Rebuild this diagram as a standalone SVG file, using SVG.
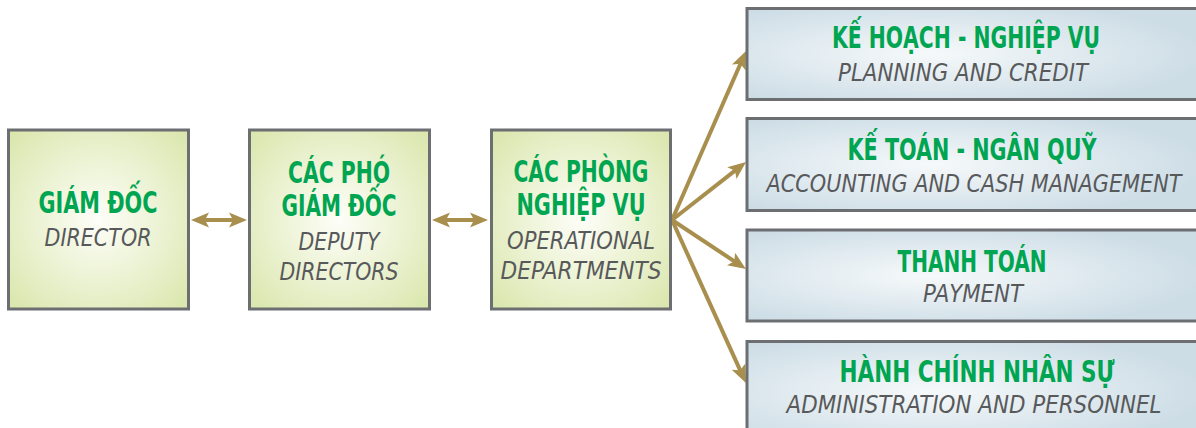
<svg xmlns="http://www.w3.org/2000/svg" width="1196" height="428" viewBox="0 0 1196 428">
<defs>
<radialGradient id="gGreen" cx="0.5" cy="0.5" r="0.7">
<stop offset="0" stop-color="#fdfef8"/>
<stop offset="0.55" stop-color="#eaf1cf"/>
<stop offset="1" stop-color="#d9e6ab"/>
</radialGradient>
<radialGradient id="gBlue" cx="0.4" cy="0.5" r="0.6">
<stop offset="0" stop-color="#f6f9fa"/>
<stop offset="0.6" stop-color="#dde8ee"/>
<stop offset="1" stop-color="#cddde6"/>
</radialGradient>
<marker id="ah" viewBox="0 -8 20 16" markerUnits="userSpaceOnUse" markerWidth="20" markerHeight="16" refX="6" refY="0" orient="auto-start-reverse">
<path d="M0,-7.5 L18,0 L0,7.5 L4,0 Z" fill="#a88f4e"/>
</marker>
<style>
.box{stroke:#6d6e71;stroke-width:3}
.g{fill:url(#gGreen)}
.b{fill:url(#gBlue)}
.t{font-family:"Liberation Sans Narrow","DejaVu Sans Condensed","Liberation Sans",sans-serif;font-weight:bold;font-size:31px;fill:#00a551;text-anchor:middle}
.s{font-family:"Liberation Sans Narrow","DejaVu Sans Condensed","Liberation Sans",sans-serif;font-style:italic;font-size:25px;fill:#58595b;text-anchor:middle}
.c{stroke:#a88f4e;stroke-width:4;fill:none;marker-end:url(#ah)}
.d{marker-start:url(#ah)}
</style>
</defs>
<g id="connectors">
<path class="c d" d="M444,220 L476,220"/>
<path class="c d" d="M203,220 L235,220"/>
<path class="c" d="M672,220 L741.2,62"/>
<path class="c" d="M672,220 L736.6,169.4"/>
<path class="c" d="M672,220 L736,262.4"/>
<path class="c" d="M672,220 L741,372.1"/>
</g>
<g id="director">
<rect class="box g" x="8.5" y="130" width="180" height="179"/>
<text class="t" x="98" y="213" textLength="119" lengthAdjust="spacingAndGlyphs">GIÁM ĐỐC</text>
<text class="s" x="98" y="246" textLength="107" lengthAdjust="spacingAndGlyphs">DIRECTOR</text>
</g>
<g id="deputy">
<rect class="box g" x="249.5" y="130" width="180" height="179"/>
<text class="t" x="339" y="183" textLength="102" lengthAdjust="spacingAndGlyphs">CÁC PHÓ</text>
<text class="t" x="339" y="216" textLength="115" lengthAdjust="spacingAndGlyphs">GIÁM ĐỐC</text>
<text class="s" x="339" y="250" textLength="81" lengthAdjust="spacingAndGlyphs">DEPUTY</text>
<text class="s" x="339" y="280" textLength="119" lengthAdjust="spacingAndGlyphs">DIRECTORS</text>
</g>
<g id="departments">
<rect class="box g" x="491.5" y="130" width="179" height="179"/>
<text class="t" x="581" y="182" textLength="135" lengthAdjust="spacingAndGlyphs">CÁC PHÒNG</text>
<text class="t" x="581" y="215" textLength="129" lengthAdjust="spacingAndGlyphs">NGHIỆP VỤ</text>
<text class="s" x="581" y="249" textLength="148" lengthAdjust="spacingAndGlyphs">OPERATIONAL</text>
<text class="s" x="581" y="279" textLength="161" lengthAdjust="spacingAndGlyphs">DEPARTMENTS</text>
</g>
<g id="planning">
<rect class="box b" x="747" y="8.5" width="460" height="91"/>
<text class="t" x="966" y="48" textLength="268" lengthAdjust="spacingAndGlyphs">KẾ HOẠCH - NGHIỆP VỤ</text>
<text class="s" x="963" y="81" textLength="250" lengthAdjust="spacingAndGlyphs">PLANNING AND CREDIT</text>
</g>
<g id="accounting">
<rect class="box b" x="747" y="118.5" width="460" height="92"/>
<text class="t" x="972" y="160" textLength="249" lengthAdjust="spacingAndGlyphs">KẾ TOÁN - NGÂN QUỸ</text>
<text class="s" x="974" y="192" textLength="415" lengthAdjust="spacingAndGlyphs">ACCOUNTING AND CASH MANAGEMENT</text>
</g>
<g id="payment">
<rect class="box b" x="747" y="230" width="460" height="91"/>
<text class="t" x="972" y="272" textLength="149" lengthAdjust="spacingAndGlyphs">THANH TOÁN</text>
<text class="s" x="973" y="302" textLength="100" lengthAdjust="spacingAndGlyphs">PAYMENT</text>
</g>
<g id="admin">
<rect class="box b" x="747" y="341.5" width="460" height="100"/>
<text class="t" x="977" y="382" textLength="275" lengthAdjust="spacingAndGlyphs">HÀNH CHÍNH NHÂN SỰ</text>
<text class="s" x="974" y="413" textLength="375" lengthAdjust="spacingAndGlyphs">ADMINISTRATION AND PERSONNEL</text>
</g>
</svg>
